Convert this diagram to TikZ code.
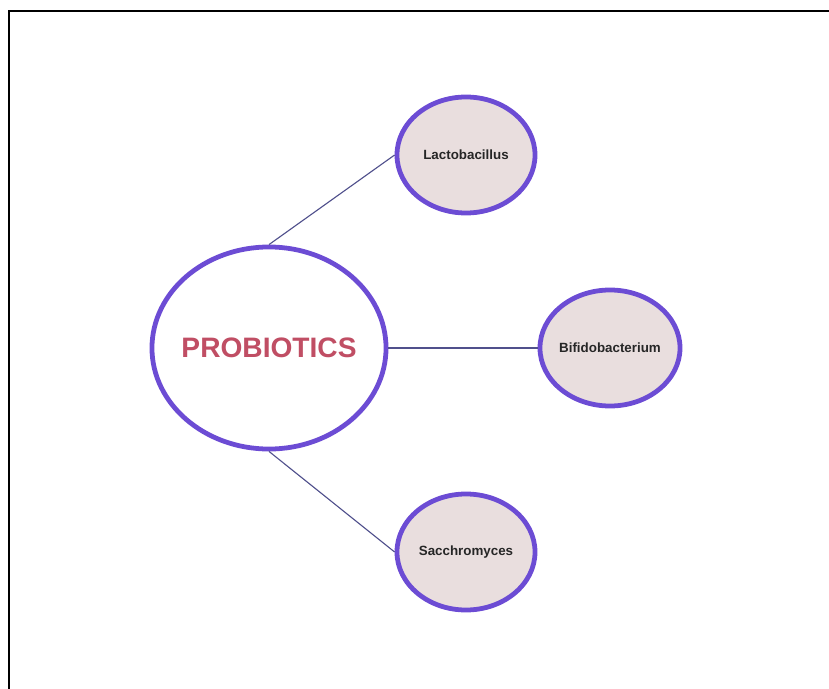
\documentclass[tikz,border=0pt]{standalone}
\usepackage{fontspec}
\setmainfont{Liberation Sans}
\usetikzlibrary{shapes.geometric}
\definecolor{ring}{RGB}{108,76,212}
\definecolor{leaffill}{RGB}{233,222,222}
\definecolor{title}{RGB}{192,78,100}
\definecolor{linkc}{RGB}{80,80,140}
\newcommand{\midtext}[1]{\makebox[0pt][c]{#1}}
\tikzset{hub/.style = {draw=ring, line width=3.4pt, fill=white, ellipse, inner sep=0pt, minimum width=5.85cm, minimum height=5.05cm, font=\fontsize{20}{24}\selectfont\bfseries, text=title},
         leaf/.style = {draw=ring, line width=3.4pt, fill=leaffill, ellipse, inner sep=0pt, minimum width=3.45cm, minimum height=2.9cm, font=\fontsize{9.5}{11}\selectfont\bfseries, text=black!85},
         link/.style = {draw=linkc, line width=0.8pt}}
\begin{document}
\begin{tikzpicture}[x=0.025cm, y=-0.025cm]
    \useasboundingbox (0,0) rectangle (829,689);
    \draw[line width=1.5pt] (9,700) -- (9,11) -- (840,11);
    \node[hub](p)at(269,348){\midtext{PROBIOTICS}};
    \node[leaf](lacto)at(466,155){\midtext{Lactobacillus}};
    \node[leaf, minimum width=3.5cm](bifido)at(610,348){\midtext{Bifidobacterium}};
    \node[leaf](sacch)at(466,552){\midtext{Sacchromyces}};
    \draw[link](p.north)--(lacto.west);
    \draw[link](p.east)--(bifido.west);
    \draw[link](p.south)--(sacch.west);
\end{tikzpicture}
\end{document}
